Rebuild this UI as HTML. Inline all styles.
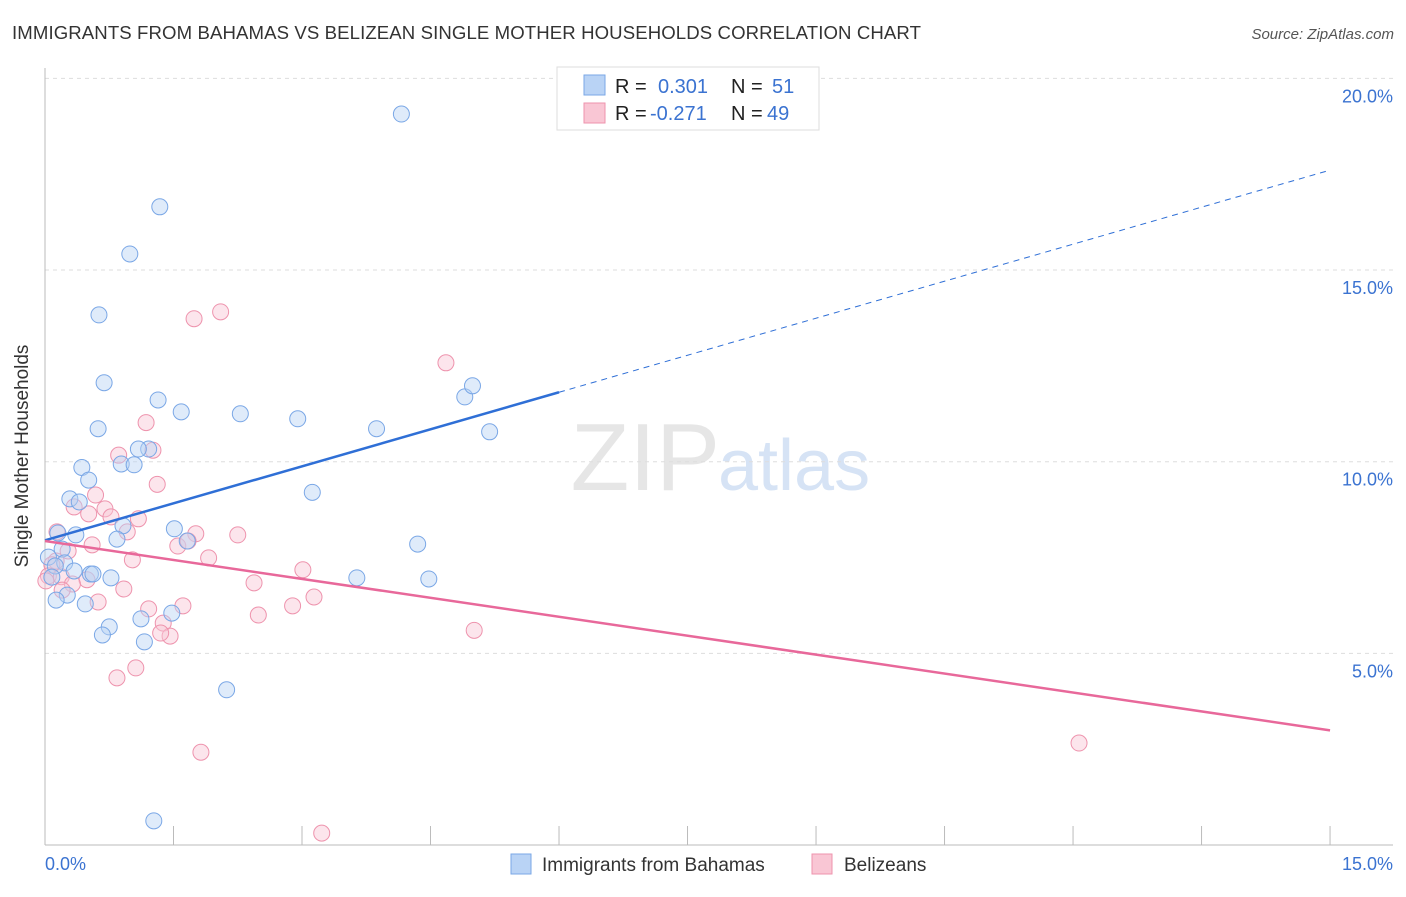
<!DOCTYPE html>
<html><head><meta charset="utf-8"><style>
body{margin:0;background:#fff;font-family:"Liberation Sans",sans-serif;}
svg text{font-family:"Liberation Sans",sans-serif;}
</style></head><body>
<svg id="chart" width="1406" height="892" xmlns="http://www.w3.org/2000/svg">
<text x="12" y="39" font-size="18.6" fill="#333" letter-spacing="0.1">IMMIGRANTS FROM BAHAMAS VS BELIZEAN SINGLE MOTHER HOUSEHOLDS CORRELATION CHART</text>
<text x="1394" y="39" font-size="15" fill="#555" font-style="italic" text-anchor="end">Source: ZipAtlas.com</text>
<text x="720" y="490" font-size="96" fill="#e6e6e6" text-anchor="end" font-family="Liberation Serif">ZIP</text>
<text x="718" y="490" font-size="72" fill="#d6e3f5">atlas</text>
<g id="grid"></g>
<line x1="45" y1="68" x2="45" y2="845" stroke="#bbb"/>
<line x1="45" y1="845" x2="1393" y2="845" stroke="#bbb"/>
<text x="28" y="456" font-size="19" fill="#333" text-anchor="middle" transform="rotate(-90 28 456)">Single Mother Households</text>
<text x="45" y="870" font-size="18" fill="#3b73d1">0.0%</text>
<text x="1393" y="870" font-size="18" fill="#3b73d1" text-anchor="end">15.0%</text>
<g id="marks"></g>
<g>
<rect x="557" y="67" width="262" height="63" fill="#fff" stroke="#ddd"/>
<rect x="584" y="75" width="21" height="20" fill="#b9d3f5" stroke="#7aa7e6"/>
<rect x="584" y="103" width="21" height="20" fill="#f9c6d4" stroke="#ee93ad"/>
<text x="615" y="93" font-size="20" fill="#222">R =</text>
<text x="658" y="93" font-size="20" fill="#3b73d1">0.301</text>
<text x="731" y="93" font-size="20" fill="#222">N =</text>
<text x="772" y="93" font-size="20" fill="#3b73d1">51</text>
<text x="615" y="120" font-size="20" fill="#222">R =</text>
<text x="650" y="120" font-size="20" fill="#3b73d1">-0.271</text>
<text x="731" y="120" font-size="20" fill="#222">N =</text>
<text x="767" y="120" font-size="20" fill="#3b73d1">49</text>
</g>
<g>
<rect x="511" y="854" width="20" height="20" fill="#b9d3f5" stroke="#7aa7e6"/>
<text x="542" y="871" font-size="19" fill="#333">Immigrants from Bahamas</text>
<rect x="812" y="854" width="20" height="20" fill="#f9c6d4" stroke="#ee93ad"/>
<text x="844" y="871" font-size="19" fill="#333">Belizeans</text>
</g>
</svg>
<script>
const yTicks=[5,10,15,20];
const xTickVals=[0,1.5,3,4.5,6,7.5,9,10.5,12,13.5,15];
const blueX=[4.16,1.34,0.99,0.63,0.69,1.32,1.59,2.28,2.95,0.62,3.87,4.90,4.99,5.19,1.21,1.09,0.89,1.04,0.43,0.51,0.29,0.40,3.12,0.91,1.51,0.15,0.36,0.84,1.66,4.35,0.20,0.04,0.23,0.12,0.34,0.53,0.56,0.77,3.64,4.48,0.08,0.26,0.13,0.47,1.48,1.12,0.75,0.67,1.16,2.12,1.27];
const blueY=[19.07,16.65,15.42,13.83,12.06,11.61,11.30,11.25,11.12,10.86,10.86,11.69,11.98,10.78,10.33,10.33,9.94,9.92,9.85,9.52,9.03,8.95,9.20,8.33,8.25,8.14,8.09,7.98,7.93,7.85,7.72,7.51,7.36,7.28,7.15,7.07,7.07,6.97,6.97,6.94,6.99,6.52,6.39,6.29,6.05,5.90,5.69,5.48,5.30,4.05,0.63];
const pinkX=[2.05,1.74,4.68,1.18,1.26,0.86,1.31,0.59,0.34,0.70,0.51,0.77,1.09,0.14,1.76,2.25,0.96,0.55,1.55,1.67,0.27,1.91,1.02,0.13,0.08,0.04,3.01,0.19,0.49,0.32,2.44,0.92,3.14,0.62,1.61,2.89,1.21,2.49,1.38,1.46,1.35,5.01,1.06,0.84,1.82,12.07,3.23,0.20,0.01];
const pinkY=[13.91,13.73,12.58,11.02,10.30,10.17,9.41,9.13,8.82,8.77,8.64,8.56,8.51,8.17,8.12,8.09,8.17,7.83,7.80,7.93,7.67,7.49,7.44,7.41,7.31,7.02,7.18,7.00,6.92,6.81,6.84,6.68,6.47,6.34,6.24,6.24,6.16,6.00,5.79,5.45,5.53,5.60,4.62,4.36,2.42,2.66,0.31,6.65,6.89];
const X0=45,XW=85.67,Y0=845,YH=38.33;
const sx=v=>X0+v*XW, sy=v=>Y0-v*YH;
const NS='http://www.w3.org/2000/svg';
const grid=document.getElementById('grid'), marks=document.getElementById('marks');
function mk(tag,attrs,parent){const e=document.createElementNS(NS,tag);for(const k in attrs)e.setAttribute(k,attrs[k]);parent.appendChild(e);return e;}
yTicks.forEach(t=>{
 const l=mk('line',{x1:45,x2:1393,y1:sy(t),y2:sy(t),stroke:'#ddd','stroke-dasharray':'4,4'},grid);
 
 
 const tx=mk('text',{x:1393,y:sy(t)+24,'font-size':18,fill:'#3b73d1','text-anchor':'end'},grid);
 tx.textContent=t.toFixed(1)+'%';
 
 
});
xTickVals.forEach(t=>{
 const l=mk('line',{x1:sx(t),x2:sx(t),y1:826,y2:845,stroke:'#bbb'},grid);
 
 
});
function dots(xs,ys,fill,stroke,name){xs.forEach((x,i)=>{
 const c=mk('circle',{cx:sx(x),cy:sy(ys[i]),r:8,fill:fill,'fill-opacity':0.45,stroke:stroke,'stroke-width':1},marks);
 
 
});}
dots(pinkX,pinkY,'#f9c6d4','#ee93ad','belizeans-point');
dots(blueX,blueY,'#b9d3f5','#7aa7e6','bahamas-point');
function fit(xs,ys){const n=xs.length;let mx=0,my=0;xs.forEach((x,i)=>{mx+=x;my+=ys[i];});mx/=n;my/=n;let a=0,b=0;xs.forEach((x,i)=>{a+=(x-mx)*(ys[i]-my);b+=(x-mx)*(x-mx);});const s=a/b;return [s,my-s*mx];}
const [bs,bi]=fit(blueX,blueY), [ps,pi]=fit(pinkX,pinkY);
let l=mk('line',{x1:sx(0),y1:sy(bi),x2:sx(6),y2:sy(bi+bs*6),stroke:'#2f6fd6','stroke-width':2.5},marks);


l=mk('line',{x1:sx(6),y1:sy(bi+bs*6),x2:sx(15),y2:sy(bi+bs*15),stroke:'#2f6fd6','stroke-width':1,'stroke-dasharray':'6,5'},marks);


l=mk('line',{x1:sx(0),y1:sy(pi),x2:sx(15),y2:sy(pi+ps*15),stroke:'#e8689a','stroke-width':2.5},marks);


</script>
</body></html>
